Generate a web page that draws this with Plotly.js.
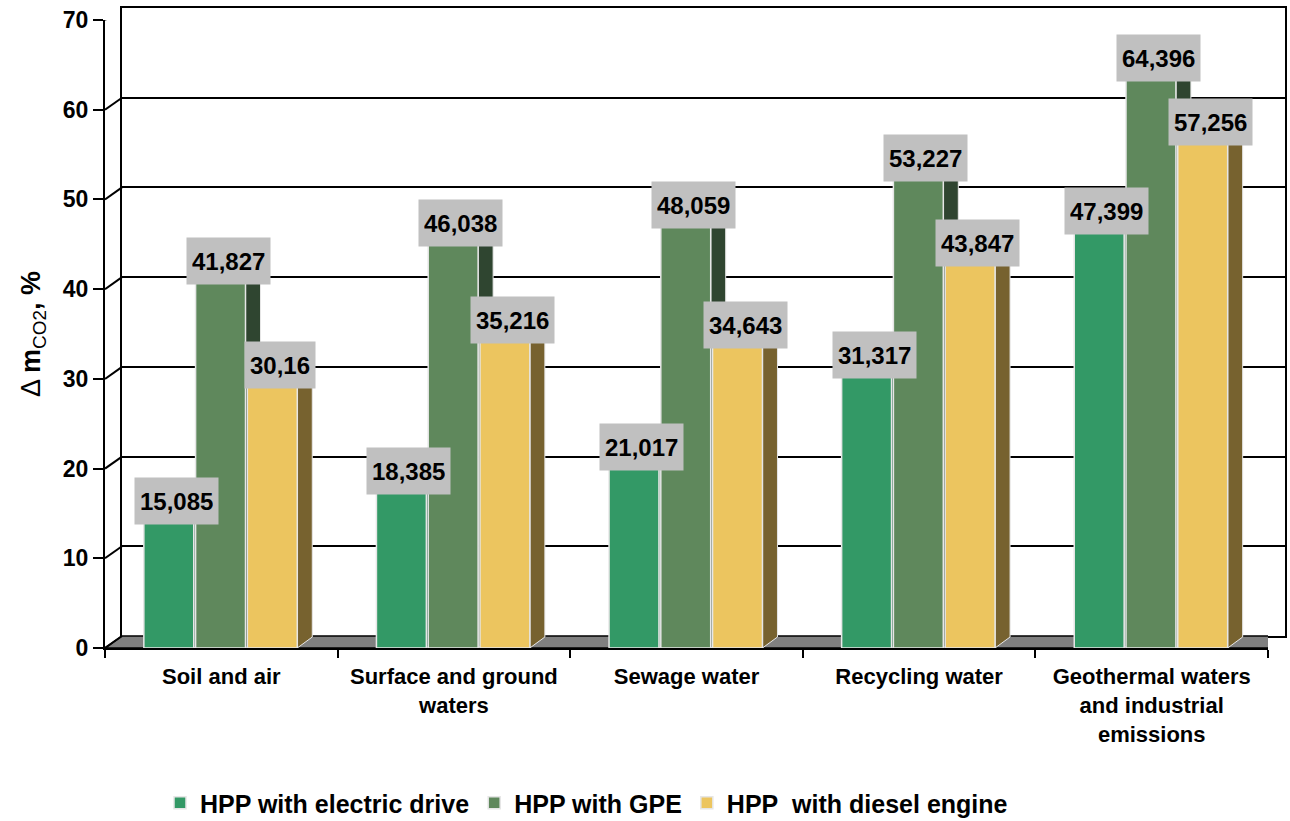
<!DOCTYPE html>
<html>
<head>
<meta charset="utf-8">
<script src="https://cdn.plot.ly/plotly-3.0.1.min.js"></script>
<style>html,body{margin:0;padding:0;background:#fff;}#chart{width:1290px;height:821px;}</style>
</head>
<body>
<div id="chart"></div>
<script>
// ---- data ----
const categories = ['Soil and air', 'Surface and ground<br>waters', 'Sewage water', 'Recycling water', 'Geothermal waters<br>and industrial<br>emissions'];
const seriesNames = ['HPP with electric drive', 'HPP with GPE', 'HPP\u00a0 with diesel engine'];
const electricDrive = [15.085, 18.385, 21.017, 31.317, 47.399];
const gpe = [41.827, 46.038, 48.059, 53.227, 64.396];
const dieselEngine = [30.16, 35.216, 34.643, 43.847, 57.256];
const yTicks = [0, 10, 20, 30, 40, 50, 60, 70];

// ---- styling / geometry ----
const W = 1290, H = 821;
const mL = 105, mR = 5, mT = 8, mB = 173;
const plotW = W - mL - mR, plotH = H - mT - mB;
const wallDX = 17, wallDY = 12;    // px depth of walls
const barDX = 15, barDY = 11;      // px depth of bars
const frontW = plotW - wallDX, frontH = plotH - wallDY;
const pxPerCat = frontW / categories.length;
const pxPerUnit = frontH / 70;
const faceColors = ['#339966', '#5f885c', '#ecc55f'];
const sideColors = ['#1d5a3b', '#2f4530', '#77622f'];
const offsets = [-0.333, -0.1105, 0.112];
const bw = 0.2146;
const series = [electricDrive, gpe, dieselEngine];
const font = 'Liberation Sans, Arial, sans-serif';

const bdx = barDX / pxPerCat, bdy = barDY / pxPerUnit;
const wdx = wallDX / pxPerCat, wdy = wallDY / pxPerUnit;

// back wall subplot (x, y) needs a trace to exist
const traces = [{type: 'scatter', x: [], y: [], xaxis: 'x', yaxis: 'y', showlegend: false, hoverinfo: 'skip'}];
series.forEach((vals, k) => traces.push({
  type: 'bar', name: seriesNames[k], x: categories, y: vals,
  xaxis: 'x2', yaxis: 'y2', width: bw, offset: offsets[k],
  marker: {color: faceColors[k], line: {color: '#e6e6e6', width: 1.5}},
  hoverinfo: 'y'
}));

const shapes = [];
// floor
shapes.push({type: 'path', xref: 'x2', yref: 'y2', layer: 'below',
  path: `M ${-0.5} 0 L ${4.5} 0 L ${4.5 + wdx} ${wdy} L ${-0.5 + wdx} ${wdy} Z`,
  fillcolor: '#808080', line: {color: '#000', width: 1.5}});
// left wall diagonal ticks
yTicks.forEach(v => {
  shapes.push({type: 'line', xref: 'x2', yref: 'y2', layer: 'below',
    x0: -0.5, y0: v, x1: -0.5 + wdx, y1: v + wdy, line: {color: '#000', width: 2}});
});
// bar side & top faces
series.forEach((vals, k) => {
  vals.forEach((v, i) => {
    const xl = i + offsets[k], xr = xl + bw;
    shapes.push({type: 'path', xref: 'x2', yref: 'y2', layer: 'between',
      path: `M ${xr} 0 L ${xr} ${v} L ${xr + bdx} ${v + bdy} L ${xr + bdx} ${bdy} Z`,
      fillcolor: sideColors[k], line: {color: '#e6e6e6', width: 1}});
    shapes.push({type: 'path', xref: 'x2', yref: 'y2', layer: 'between',
      path: `M ${xl} ${v} L ${xr} ${v} L ${xr + bdx} ${v + bdy} L ${xl + bdx} ${v + bdy} Z`,
      fillcolor: faceColors[k], line: {color: '#e6e6e6', width: 1}});
  });
});

// value labels
const annotations = [];
series.forEach((vals, k) => {
  vals.forEach((v, i) => {
    annotations.push({xref: 'x2', yref: 'y', x: i + offsets[k] + bw / 2, y: v,
      xshift: barDX / 2, text: String(v).replace('.', ','), showarrow: false,
      bgcolor: '#c0c0c0', borderpad: 5, height: 36,
      font: {family: font, size: 24, color: '#000', weight: 'bold'}});
  });
});

const layout = {
  width: W, height: H,
  margin: {l: mL, r: mR, t: mT, b: mB, autoexpand: false},
  paper_bgcolor: '#fff', plot_bgcolor: 'rgba(0,0,0,0)',
  barmode: 'overlay',
  showlegend: true,
  legend: {orientation: 'h', x: (160 - mL) / plotW, xanchor: 'left', y: -(803 - (mT + plotH)) / plotH, yanchor: 'middle',
    font: {family: font, size: 25, color: '#000', weight: 'bold'}, itemwidth: 30, tracegroupgap: 0},
  // back wall
  xaxis: {domain: [wallDX / plotW, 1], anchor: 'y', range: [0, 1], fixedrange: true,
    showticklabels: false, ticks: '', showline: true, mirror: true, linecolor: '#000', linewidth: 2,
    showgrid: false, zeroline: false},
  yaxis: {domain: [wallDY / plotH, 1], anchor: 'x', range: [0, 70], tickvals: yTicks, fixedrange: true,
    showticklabels: false, ticks: '', showgrid: true, gridcolor: '#000', gridwidth: 2,
    showline: true, mirror: true, linecolor: '#000', linewidth: 2, zeroline: false},
  // front
  xaxis2: {type: 'category', domain: [0, frontW / plotW], anchor: 'y2', range: [-0.5, 4.5],
    tickson: 'boundaries', ticks: 'outside', ticklen: 8, tickwidth: 2, tickcolor: '#000',
    showline: true, linecolor: '#000', linewidth: 2, showgrid: false, zeroline: false,
    ticklabelstandoff: 8,
    tickfont: {family: font, size: 22, color: '#000', weight: 'bold'}},
  yaxis2: {domain: [0, frontH / plotH], anchor: 'x2', range: [0, 70], tickvals: yTicks,
    ticks: 'outside', ticklen: 10, tickwidth: 2, tickcolor: '#000', showline: true, linecolor: '#000', linewidth: 2,
    showgrid: false, zeroline: false,
    tickfont: {family: font, size: 23, color: '#000', weight: 'bold'},
    title: {text: 'Δ <b>m</b><sub>CO2</sub><b>, %</b>', standoff: 14, font: {family: font, size: 27, color: '#000'}}},
  shapes: shapes,
  annotations: annotations
};

Plotly.newPlot('chart', traces, layout, {displayModeBar: false, staticPlot: true});
</script>
</body>
</html>
